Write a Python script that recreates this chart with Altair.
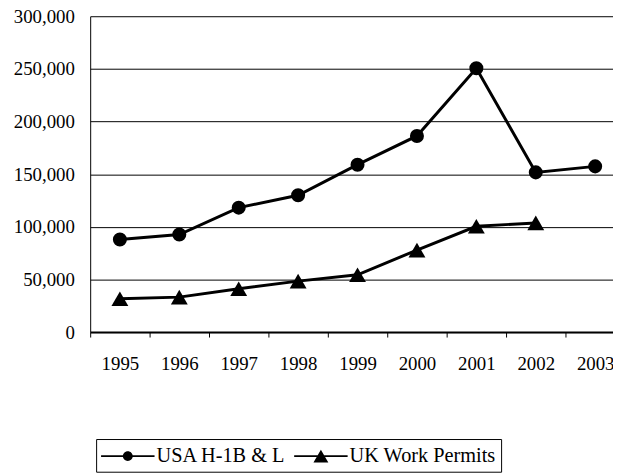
import altair as alt
import pandas as pd

years = ["1995", "1996", "1997", "1998", "1999", "2000", "2001", "2002", "2003"]
usa_values = [88000, 92700, 118200, 130000, 159000, 186300, 250600, 151700, 157400]
uk_values = [31700, 33200, 41200, 48400, 54400, 77900, 100500, 103700]
series_names = ["USA H-1B & L", "UK Work Permits"]
y_ticks = [0, 50000, 100000, 150000, 200000, 250000, 300000]

rows = []
for yr, v in zip(years, usa_values):
    rows.append({"year": yr, "value": v, "series": series_names[0]})
for yr, v in zip(years, uk_values):
    rows.append({"year": yr, "value": v, "series": series_names[1]})
df = pd.DataFrame(rows)

FONT = "Liberation Serif"

x_enc = alt.X(
    "year:O",
    sort=years,
    bandPosition=0.5,
    scale=alt.Scale(type="band", domain=years, range=[0, 540], paddingInner=0, paddingOuter=0),
    axis=alt.Axis(
        title=None, labelAngle=0, tickBand="extent", grid=False,
        domainColor="black", domainWidth=2, tickColor="black", tickWidth=1, tickSize=5,
        labelFont=FONT, labelFontSize=19, labelColor="black", labelPadding=18,
    ),
)
y_enc = alt.Y(
    "value:Q",
    scale=alt.Scale(domain=[0, 300000], nice=False),
    axis=alt.Axis(
        title=None, values=y_ticks, format=",d", grid=True, gridColor="black", gridWidth=1,
        gridOpacity=1, domainColor="black", domainWidth=1, tickSize=0, labelPadding=16,
        labelFont=FONT, labelFontSize=19, labelColor="black",
    ),
)

# legend glyphs: a 2px bar with the marker in its middle (all filled, same winding)
path_usa = ("M-1,-0.083H3.5V0.083H-1Z"
            "M0.833,0A0.4167,0.4167,0,1,1,1.667,0A0.4167,0.4167,0,1,1,0.833,0Z")
path_uk = ("M-1,-0.083H3.5V0.083H-1Z"
           "M1.25,-0.54L1.875,0.54L0.625,0.54Z")

legend_layer = alt.Chart(df).transform_filter("false").mark_point(
    filled=True, color="black", size=576, opacity=1
).encode(
    x=x_enc, y=y_enc,
    shape=alt.Shape(
        "series:N",
        scale=alt.Scale(domain=series_names, range=[path_usa, path_uk]),
        legend=alt.Legend(
            title=None, orient="none", legendX=6, legendY=427, direction="horizontal",
            strokeColor="black", fillColor="white", padding=5,
            labelFont=FONT, labelFontSize=20.5, labelColor="black", labelOffset=32,
            labelLimit=400, columnPadding=8, symbolSize=576, symbolStrokeWidth=0,
            symbolFillColor="black", symbolOpacity=1,
        ),
    ),
)

lines = alt.Chart(df).mark_line(color="black", strokeWidth=3).encode(
    x=x_enc, y=y_enc, detail="series:N"
)

points = alt.Chart(df).mark_point(filled=True, color="black", opacity=1).encode(
    x=x_enc, y=y_enc,
    shape=alt.Shape("series:N", scale=alt.Scale(domain=series_names, range=["circle", "triangle-up"]), legend=None),
    size=alt.Size("series:O", scale=alt.Scale(domain=series_names, range=[200, 290]), legend=None),
)

chart = alt.layer(legend_layer, lines, points).resolve_scale(
    shape="independent", size="independent"
).properties(
    width=528, height=319,
    padding={"left": 83, "top": 6, "right": 0, "bottom": 141},
    autosize=alt.AutoSizeParams(type="none"),
    background="white",
).configure_view(stroke=None)

chart.save("out.html", embed_options={"renderer": "svg", "actions": False})
